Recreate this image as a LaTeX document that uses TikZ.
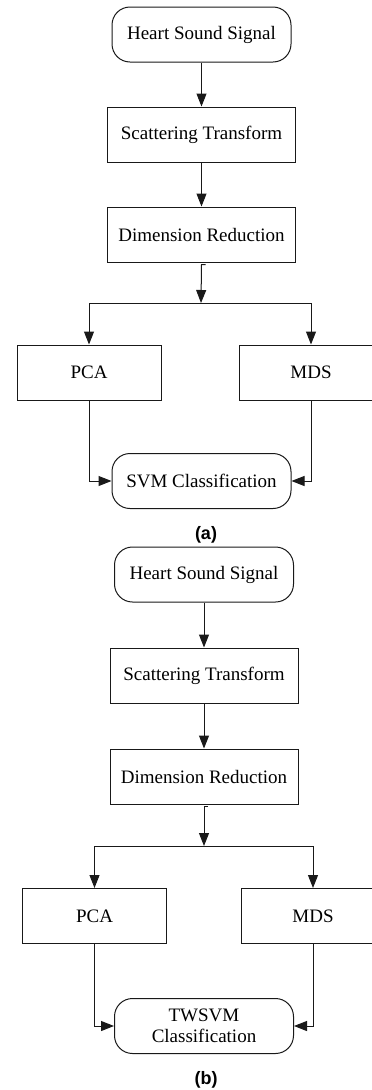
\documentclass[tikz,border=0pt]{standalone}
\usepackage{fontspec}
\setmainfont{Liberation Serif}
\newfontfamily\capfont{Liberation Sans}
\usepackage{tikz}
\usetikzlibrary{arrows.meta,positioning}

\begin{document}
\begin{tikzpicture}[
    x=1pt, y=1pt,
    term/.style={rectangle, draw=black!90, line width=1pt, rounded corners=18pt,
        minimum width=179pt, minimum height=55pt, inner sep=0pt,
        text centered, align=center, font=\fontsize{19}{21}\selectfont},
    proc/.style={rectangle, draw=black!90, line width=1pt,
        minimum width=188pt, minimum height=55pt, inner sep=0pt,
        text centered, font=\fontsize{19}{21}\selectfont},
    meth/.style={proc, minimum width=144pt},
    flow/.style={draw=black!90, line width=1pt, -{Triangle[length=13pt,width=10pt]}},
    caption/.style={font=\capfont\bfseries\fontsize{18}{20}\selectfont},
    node distance=44pt
    ]
    \useasboundingbox (0,0) rectangle (372,-1090);

    % (a)
    \node (SignalA) [term] at (201.5,-34.5) {Heart Sound Signal};
    \node (ScatterA) [proc, below=of SignalA] {Scattering Transform};
    \node (ReduceA) [proc, below=of ScatterA] {Dimension Reduction};
    \coordinate (SplitA) at (201,-303);
    \node (PcaA) [meth] at (89,-372.5) {PCA};
    \node (MdsA) [meth] at (311,-372.5) {MDS};
    \node (SvmA) [term] at (201.5,-481) {SVM Classification};
    \node (CapA) [caption] at (206,-535) {(a)};

    \draw[flow] (SignalA) -- (ScatterA);
    \draw[flow] (ScatterA) -- (ReduceA);
    \draw[flow] ([xshift=4pt,yshift=-2pt]ReduceA.south) -- ++(-4pt,0) -- (SplitA);
    \draw[flow] (SplitA) -| (PcaA.north);
    \draw[flow] (SplitA) -| (MdsA.north);
    \draw[flow] (PcaA.south) |- (SvmA.west);
    \draw[flow] (MdsA.south) |- (SvmA.east);

    % (b)
    \node (SignalB) [term] at (204,-574.5) {Heart Sound Signal};
    \node (ScatterB) [proc, below=45pt of SignalB] {Scattering Transform};
    \node (ReduceB) [proc, below=45pt of ScatterB] {Dimension Reduction};
    \coordinate (SplitB) at (204,-846);
    \node (PcaB) [meth] at (94.5,-916) {PCA};
    \node (MdsB) [meth] at (313,-916) {MDS};
    \node (SvmB) [term] at (204,-1026) {TWSVM\\Classification};
    \node (CapB) [caption] at (206,-1080) {(b)};

    \draw[flow] (SignalB) -- (ScatterB);
    \draw[flow] (ScatterB) -- (ReduceB);
    \draw[flow] ([xshift=4pt,yshift=-2pt]ReduceB.south) -- ++(-4pt,0) -- (SplitB);
    \draw[flow] (SplitB) -| (PcaB.north);
    \draw[flow] (SplitB) -| (MdsB.north);
    \draw[flow] (PcaB.south) |- (SvmB.west);
    \draw[flow] (MdsB.south) |- (SvmB.east);
\end{tikzpicture}
\end{document}
